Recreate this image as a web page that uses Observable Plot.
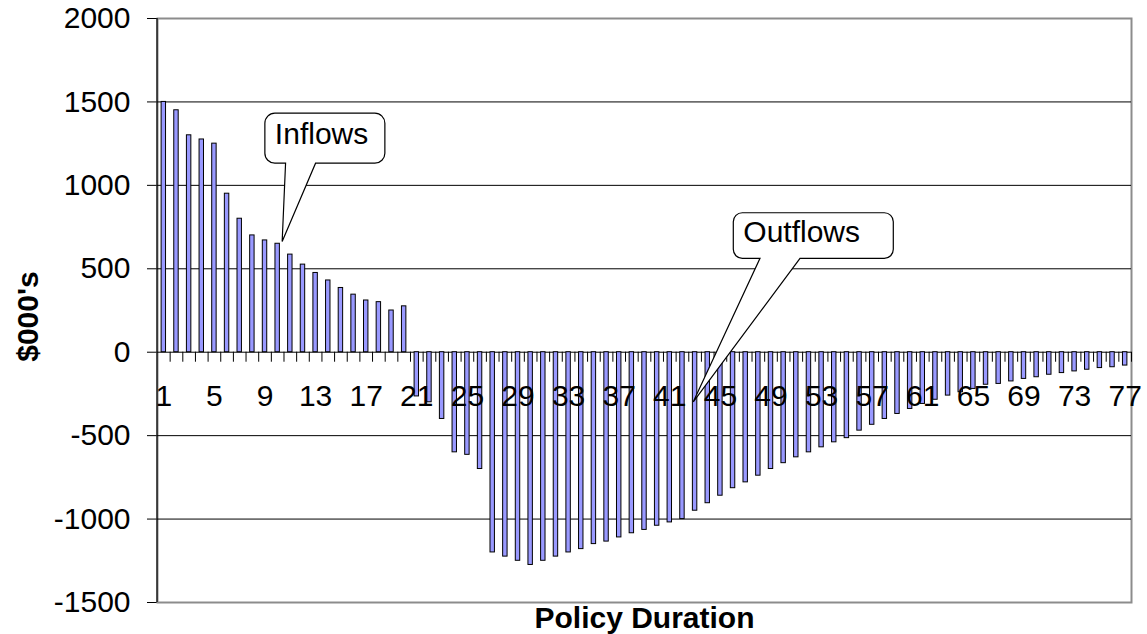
<!DOCTYPE html>
<html>
<head>
<meta charset="utf-8">
<script src="https://cdn.jsdelivr.net/npm/d3@7"></script>
<script src="https://cdn.jsdelivr.net/npm/@observablehq/plot@0.6"></script>
<style>
  html, body { margin: 0; padding: 0; background: #ffffff; }
  #chart svg { display: block; }
</style>
</head>
<body>
<div id="chart"></div>
<script>
// ---------------- data ----------------
const durations = [1,2,3,4,5,6,7,8,9,10,11,12,13,14,15,16,17,18,19,20,
  21,22,23,24,25,26,27,28,29,30,31,32,33,34,35,36,37,38,39,40,
  41,42,43,44,45,46,47,48,49,50,51,52,53,54,55,56,57,58,59,60,
  61,62,63,64,65,66,67,68,69,70,71,72,73,74,75,76,77];

const flows = [1500,1450,1300,1275,1250,950,800,700,670,650,
  585,525,475,430,385,345,310,300,250,275,
  -265,-300,-400,-600,-615,-700,-1200,-1225,-1250,-1275,
  -1250,-1225,-1200,-1180,-1150,-1135,-1110,-1085,-1065,-1040,
  -1020,-1000,-950,-905,-860,-815,-780,-740,-700,-665,
  -630,-600,-570,-540,-515,-470,-435,-400,-370,-340,
  -310,-285,-260,-240,-220,-195,-190,-175,-160,-150,
  -135,-125,-115,-105,-95,-90,-80];

const xTickLabels = [1,5,9,13,17,21,25,29,33,37,41,45,49,53,57,61,65,69,73,77];
const yTickValues = [-1500,-1000,-500,0,500,1000,1500,2000];
const gridValues = [1500,1000,500,0,-500,-1000];

const calloutLabels = ["Inflows", "Outflows"];
const calloutDurations = [10, 43];
const calloutLevels = [660, -300];

const yTitle = "$000's";
const xTitle = "Policy Duration";

// ---------------- build ----------------
const data = durations.map((d, i) => ({duration: d, flow: flows[i]}));
const callouts = calloutLabels.map((label, i) => ({label, duration: calloutDurations[i], level: calloutLevels[i]}));

const W = 1147, H = 634;
const mL = 157, mR = 16, mT = 18, mB = 32;
const step = (W - mL - mR) / durations.length;
const FS = 30;

// callout balloon geometry (pixels, relative to the pointed spot)
const balloonStyle = {
  "Inflows":  {tipDx: 5,    l: -17.3, r: 102.7, t: -128.4, b: -78.4, t1: 3.4,  t2: 33.4,  rad: 10},
  "Outflows": {tipDx: -1.3, l: 40,    r: 200,   t: -189,   b: -143.4, t1: 66.7, t2: 106.7, rad: 9}
};

function renderExtras(index, scales, values, dims) {
  const g = d3.create("svg:g");
  // black left axis line
  g.append("line")
    .attr("x1", dims.marginLeft).attr("x2", dims.marginLeft)
    .attr("y1", dims.marginTop).attr("y2", dims.height - dims.marginBottom)
    .attr("stroke", "black").attr("stroke-width", 1.2);
  const xs = scales.x, ys = scales.y;
  const bw = xs.bandwidth ? xs.bandwidth() : 0;
  for (const c of callouts) {
    const s = balloonStyle[c.label];
    const tx = xs(c.duration) + bw / 2 + s.tipDx;
    const ty = ys(c.level);
    const L = tx + s.l, R = tx + s.r, T = ty + s.t, B = ty + s.b, r = s.rad;
    const p = `M${L + r},${T} H${R - r} A${r},${r} 0 0 1 ${R},${T + r} V${B - r} A${r},${r} 0 0 1 ${R - r},${B} ` +
              `H${tx + s.t2} L${tx},${ty} L${tx + s.t1},${B} H${L + r} A${r},${r} 0 0 1 ${L},${B - r} V${T + r} A${r},${r} 0 0 1 ${L + r},${T} Z`;
    g.append("path").attr("d", p).attr("fill", "white").attr("stroke", "black").attr("stroke-width", 1.2);
    g.append("text")
      .attr("x", L + 10).attr("y", (T + B) / 2 + 6)
      .attr("text-anchor", "start")
      .attr("font-size", FS)
      .attr("fill", "black")
      .text(c.label);
  }
  return g.node();
}

const chart = Plot.plot({
  width: W,
  height: H,
  marginLeft: mL,
  marginRight: mR,
  marginTop: mT,
  marginBottom: mB,
  style: {
    fontFamily: "'Liberation Sans', Arial, Helvetica, sans-serif",
    fontSize: FS + "px",
    color: "black",
    background: "white",
    overflow: "visible"
  },
  x: {type: "band", domain: durations, paddingInner: 0.65, paddingOuter: 0.325, axis: null},
  y: {
    domain: [-1500, 2000],
    ticks: yTickValues,
    tickSize: 10,
    tickPadding: 17,
    tickFormat: d => String(d),
    label: null
  },
  marks: [
    Plot.frame({stroke: "#8c8c8c", strokeWidth: 2}),
    Plot.ruleY(gridValues, {stroke: "black", strokeWidth: 1}),
    Plot.barY(data, {x: "duration", y: "flow", fill: "#9999FF", stroke: "black", strokeWidth: 1}),
    Plot.ruleX(durations, {x: d => d, y1: 0, y2: -60, dx: step / 2, stroke: "black", strokeWidth: 1}),
    Plot.text(xTickLabels, {x: d => d, y: 0, dy: 44, text: d => String(d), fontSize: FS, fill: "black", lineAnchor: "middle"}),
    Plot.text([yTitle], {frameAnchor: "left", text: d => d, rotate: -90, textAnchor: "middle", lineAnchor: "middle", dx: -129, dy: 6, fontWeight: "bold", fontSize: FS, fill: "black"}),
    Plot.text([xTitle], {frameAnchor: "bottom", text: d => d, textAnchor: "middle", lineAnchor: "middle", dy: 16, fontWeight: "bold", fontSize: FS, fill: "black"}),
    renderExtras
  ]
});

document.getElementById("chart").appendChild(chart);
</script>
</body>
</html>
